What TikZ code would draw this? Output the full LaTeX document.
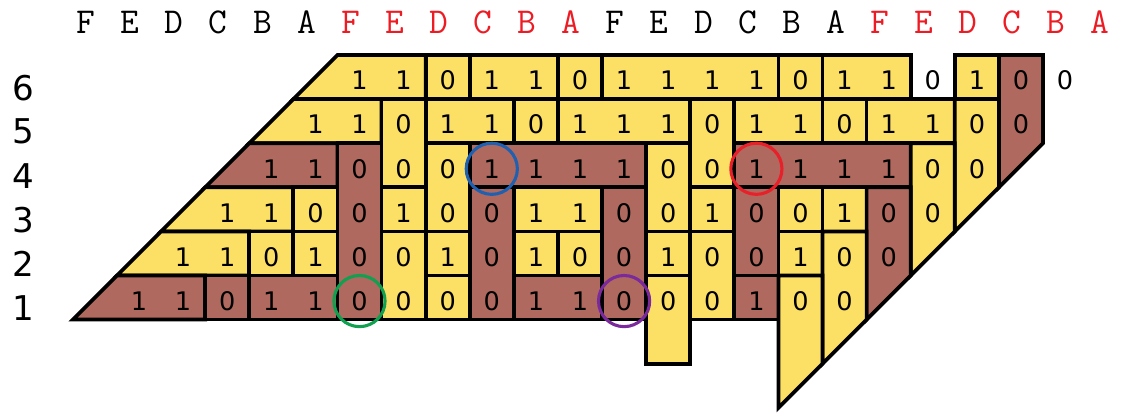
\documentclass[tikz,border=0pt]{standalone}
\usepackage{fontspec}
\setmainfont{DejaVu Sans}
\usepackage{tikz}
\definecolor{gelb}{HTML}{FCDF65}
\definecolor{braun}{HTML}{B0695E}
\definecolor{rot}{HTML}{ED1C24}
\definecolor{blau}{HTML}{2060B0}
\definecolor{gruen}{HTML}{10A050}
\definecolor{lila}{HTML}{7A2A9A}
\definecolor{kreisrot}{HTML}{E8202A}

\begin{document}
\begin{tikzpicture}[x=1cm, y=1cm,
  ge/.style={fill=gelb, draw=black, line width=2.4pt},
  br/.style={fill=braun, draw=black, line width=2.4pt},
  dig/.style={font=\fontsize{16.5}{18}\selectfont, inner sep=0pt},
  rowlab/.style={font=\fontsize{22}{24}\selectfont, inner sep=0pt},
  hd/.style={font=\ttfamily\fontsize{23.5}{26}\selectfont, inner sep=0pt},
  ring/.style={draw=#1, line width=2pt}]
  \useasboundingbox (-8.152,-1.641) rectangle (17.268,7.747);
  % row 6
  \draw[ge] (-1.5,5.5) -- (-0.5,6.5) -- (1.5,6.5) -- (1.5,5.5) -- cycle;
  \draw[ge] (1.5,5.5) rectangle (2.5,6.5);
  \draw[ge] (2.5,5.5) rectangle (4.5,6.5);
  \draw[ge] (4.5,5.5) rectangle (5.5,6.5);
  \draw[ge] (5.5,5.5) rectangle (9.5,6.5);
  \draw[ge] (9.5,5.5) rectangle (10.5,6.5);
  \draw[ge] (10.5,5.5) rectangle (12.5,6.5);
  \draw[ge] (13.5,5.5) rectangle (14.5,6.5);
  \draw[br] (14.5,6.5) -- (15.5,6.5) -- (15.5,4.5) -- (14.5,3.5) -- cycle;
  % row 5
  \draw[ge] (-2.5,4.5) -- (-1.5,5.5) -- (0.5,5.5) -- (0.5,4.5) -- cycle;
  \draw[ge] (0.5,3.5) rectangle (1.5,5.5);
  \draw[ge] (1.5,4.5) rectangle (3.5,5.5);
  \draw[ge] (3.5,4.5) rectangle (4.5,5.5);
  \draw[ge] (4.5,4.5) rectangle (7.5,5.5);
  \draw[ge] (7.5,3.5) rectangle (8.5,5.5);
  \draw[ge] (8.5,4.5) rectangle (10.5,5.5);
  \draw[ge] (10.5,4.5) rectangle (11.5,5.5);
  \draw[ge] (11.5,4.5) rectangle (13.5,5.5);
  \draw[ge] (13.5,5.5) -- (14.5,5.5) -- (14.5,3.5) -- (13.5,2.5) -- cycle;
  % row 4
  \draw[br] (-3.5,3.5) -- (-2.5,4.5) -- (-0.5,4.5) -- (-0.5,3.5) -- cycle;
  \draw[br] (-0.5,0.5) rectangle (0.5,4.5);
  \draw[ge] (1.5,2.5) rectangle (2.5,4.5);
  \draw[br] (2.5,3.5) rectangle (6.5,4.5);
  \draw[ge] (6.5,2.5) rectangle (7.5,4.5);
  \draw[br] (8.5,3.5) rectangle (12.5,4.5);
  \draw[ge] (12.5,4.5) -- (13.5,4.5) -- (13.5,2.5) -- (12.5,1.5) -- cycle;
  % row 3
  \draw[ge] (-4.5,2.5) -- (-3.5,3.5) -- (-1.5,3.5) -- (-1.5,2.5) -- cycle;
  \draw[ge] (-1.5,2.5) rectangle (-0.5,3.5);
  \draw[ge] (0.5,2.5) rectangle (1.5,3.5);
  \draw[br] (2.5,0.5) rectangle (3.5,3.5);
  \draw[ge] (3.5,2.5) rectangle (5.5,3.5);
  \draw[br] (5.5,0.5) rectangle (6.5,3.5);
  \draw[ge] (7.5,2.5) rectangle (8.5,3.5);
  \draw[br] (8.5,1.5) rectangle (9.5,3.5);
  \draw[ge] (9.5,2.5) rectangle (10.5,3.5);
  \draw[ge] (10.5,2.5) rectangle (11.5,3.5);
  \draw[br] (11.5,3.5) -- (12.5,3.5) -- (12.5,1.5) -- (11.5,0.5) -- cycle;
  % row 2
  \draw[ge] (-5.5,1.5) -- (-4.5,2.5) -- (-2.5,2.5) -- (-2.5,1.5) -- cycle;
  \draw[ge] (-2.5,1.5) rectangle (-1.5,2.5);
  \draw[ge] (-1.5,1.5) rectangle (-0.5,2.5);
  \draw[ge] (0.5,0.5) rectangle (1.5,2.5);
  \draw[ge] (1.5,1.5) rectangle (2.5,2.5);
  \draw[ge] (3.5,1.5) rectangle (4.5,2.5);
  \draw[ge] (4.5,1.5) rectangle (5.5,2.5);
  \draw[ge] (6.5,1.5) rectangle (7.5,2.5);
  \draw[ge] (7.5,0.5) rectangle (8.5,2.5);
  \draw[ge] (9.5,1.5) rectangle (10.5,2.5);
  \draw[ge] (10.5,2.5) -- (11.5,2.5) -- (11.5,0.5) -- (10.5,-0.5) -- cycle;
  % row 1
  \draw[br] (-6.5,0.5) -- (-5.5,1.5) -- (-3.5,1.5) -- (-3.5,0.5) -- cycle;
  \draw[br] (-3.5,0.5) rectangle (-2.5,1.5);
  \draw[br] (-2.5,0.5) rectangle (-0.5,1.5);
  \draw[ge] (1.5,0.5) rectangle (2.5,1.5);
  \draw[br] (3.5,0.5) rectangle (5.5,1.5);
  \draw[ge] (6.5,-0.5) rectangle (7.5,1.5);
  \draw[br] (8.5,0.5) rectangle (9.5,1.5);
  \draw[ge] (9.5,1.5) -- (10.5,1.5) -- (10.5,-0.5) -- (9.5,-1.5) -- cycle;
  % digits
  \foreach \r/\s/\bits in {6/0/{1,1,0,1,1,0,1,1,1,1,0,1,1,0,1,0,0},
      5/-1/{1,1,0,1,1,0,1,1,1,0,1,1,0,1,1,0,0},
      4/-2/{1,1,0,0,0,1,1,1,1,0,0,1,1,1,1,0,0},
      3/-3/{1,1,0,0,1,0,0,1,1,0,0,1,0,0,1,0,0},
      2/-4/{1,1,0,1,0,0,1,0,1,0,0,1,0,0,1,0,0},
      1/-5/{1,1,0,1,1,0,0,0,0,1,1,0,0,0,1,0,0}}
    \foreach \b [count=\i from 0] in \bits
      \node[dig] (d\r\i) at ({\s+\i}, {\r-0.08}) {\b};
  \foreach \r in {1,...,6}
    \node[rowlab] (r\r) at (-7.62, {\r-0.24}) {\r};
  \foreach \o/\c in {0/black, 6/rot, 12/black, 18/rot}
    \foreach \l [count=\k from 0] in {F,E,D,C,B,A}
      \node[hd, text=\c] (h\o\l) at ({\o+\k-6.2}, 7.24) {\l};
  \draw[ring=blau] (d45) circle[radius=0.58];
  \draw[ring=kreisrot] (d411) circle[radius=0.58];
  \draw[ring=gruen] (d15) circle[radius=0.58];
  \draw[ring=lila] (d111) circle[radius=0.58];
\end{tikzpicture}
\end{document}
